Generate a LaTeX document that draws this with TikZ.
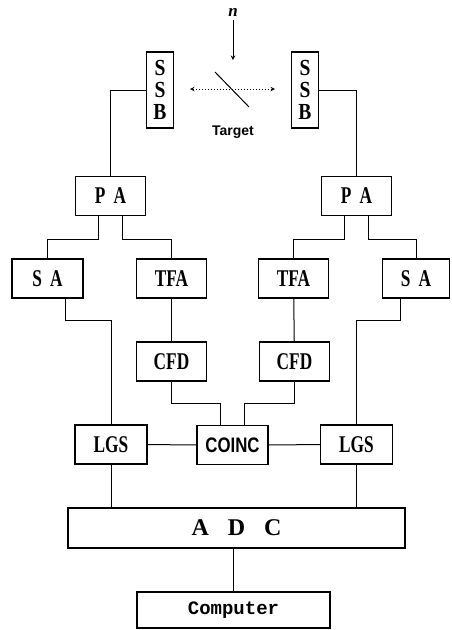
\documentclass[tikz,border=0pt]{standalone}
\usepackage{fontspec}
\usepackage{tikz}
\newfontfamily\blkfont[FakeStretch=0.72]{Liberation Serif}
\newfontfamily\ssbfont[FakeStretch=0.85]{Liberation Serif}
\newfontfamily\wideserif{Liberation Serif}
\newfontfamily\coincfont[FakeStretch=0.8]{Liberation Sans}
\newfontfamily\labfont{Liberation Sans}
\newfontfamily\compfont{Liberation Mono}
\tikzset{
  blk/.style={draw, line width=1.5pt, inner sep=0pt, minimum height=39pt,
    minimum width=70pt, font=\blkfont\bfseries\fontsize{24}{24}\selectfont},
  det/.style={draw, line width=1.5pt, inner sep=0pt, minimum width=27pt, minimum height=76pt,
    align=center, font=\ssbfont\bfseries\fontsize{23}{22}\selectfont},
  wire/.style={line width=1pt}
}

\begin{document}
\begin{tikzpicture}[x=1pt,y=-1pt]
\useasboundingbox (0,0) rectangle (451,630);
% detectors and target
\node[det] (ssb1) at (160,90) {S\\S\\B};
\node[det] (ssb2) at (305,90) {S\\S\\B};
\node[font=\wideserif\bfseries\itshape\fontsize{17}{17}\selectfont] (n) at (233,12) {n};
\coordinate (nend) at (233,60);
\draw[wire,-stealth] (n.south) -- (nend);
\coordinate (tga) at (215,72);
\coordinate (tgb) at (249,107);
\draw[wire] (tga) -- (tgb);
\coordinate (dl) at (190,89);
\coordinate (dr) at (275,89);
\draw[wire,dotted,stealth-stealth] (dl) -- (dr);
\node[font=\labfont\bfseries\fontsize{14}{14}\selectfont] (tgt) at (233,132) {Target};
% amplifiers
\node[blk] (pa1) at (110.5,196) {P\hspace{8pt}A};
\node[blk] (pa2) at (356.5,196) {P\hspace{8pt}A};
\node[blk,minimum width=71pt] (sa1) at (47.5,278.5) {S\hspace{8pt}A};
\node[blk] (tfa1) at (171.5,278.5) {TFA};
\node[blk] (tfa2) at (293.5,278.5) {TFA};
\node[blk,minimum width=67pt] (sa2) at (416,278.5) {S\hspace{8pt}A};
\node[blk] (cfd1) at (171.5,361.5) {CFD};
\node[blk] (cfd2) at (294.5,361.5) {CFD};
\node[blk,minimum width=72pt] (lgs1) at (111,444.5) {LGS};
\node[blk,minimum width=71pt,font=\coincfont\bfseries\fontsize{21}{22}\selectfont] (coinc) at (232.5,445) {COINC};
\node[blk,minimum width=72pt] (lgs2) at (356.5,444.5) {LGS};
\node[blk,minimum width=337pt,minimum height=40pt,
  font=\wideserif\bfseries\fontsize{24}{24}\selectfont] (adc) at (236.5,528) {A\hspace{19pt}D\hspace{19pt}C};
\node[blk,minimum width=193pt,minimum height=36pt,
  font=\compfont\bfseries\fontsize{19}{20}\selectfont] (comp) at (233.5,610) {Computer};
% wiring
\draw[wire] (ssb1.west) -| (pa1.north);
\draw[wire] (ssb2.east) -| (pa2.north);
\draw[wire] ([xshift=-12pt]pa1.south) -- ++(0,23) -| (sa1.north);
\draw[wire] ([xshift=12pt]pa1.south) -- ++(0,23) -| (tfa1.north);
\draw[wire] ([xshift=-12pt]pa2.south) -- ++(0,23) -| (tfa2.north);
\draw[wire] ([xshift=12pt]pa2.south) -- ++(0,23) -| (sa2.north);
\draw[wire] ([xshift=18pt]sa1.south) -- ++(0,22) -| (lgs1.north);
\draw[wire] ([xshift=-16pt]sa2.south) -- ++(0,22) -| (lgs2.north);
\draw[wire] (tfa1) -- (cfd1);
\draw[wire] (tfa2) -- (cfd2);
\draw[wire] (cfd1.south) -- ++(0,22) -| ([xshift=-12pt]coinc.north);
\draw[wire] (cfd2.south) -- ++(0,22) -| ([xshift=12pt]coinc.north);
\draw[wire] (lgs1) -- (coinc);
\draw[wire] (coinc) -- (lgs2);
\draw[wire] (lgs1.south) -- (lgs1.south |- adc.north);
\draw[wire] (lgs2.south) -- (lgs2.south |- adc.north);
\draw[wire] (comp.north |- adc.south) -- (comp.north);
\end{tikzpicture}
\end{document}
